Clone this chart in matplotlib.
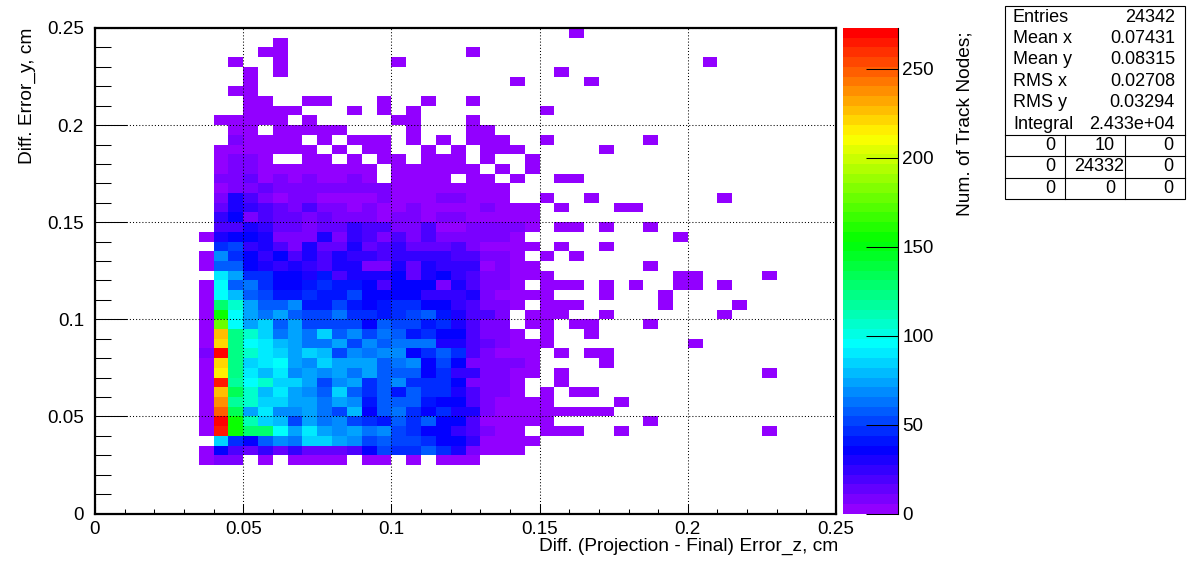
import colorsys

import numpy as np
import matplotlib
matplotlib.use("Agg")
import matplotlib.pyplot as plt
from matplotlib.colors import BoundaryNorm, ListedColormap
from matplotlib.ticker import MultipleLocator

# bin contents, one list per y bin starting at y bin 5, each list starts at x bin 7
first_y_bin = 5
first_x_bin = 7
rows = [
    [3, 10, 6, 0, 3, 0, 3, 3, 3, 3, 0, 3, 3, 0, 3, 0, 3, 3, 3],
    [3, 36, 18, 16, 25, 16, 25, 15, 15, 15, 20, 36, 50, 45, 45, 55, 45, 30, 10, 4, 4, 4],
    [0, 83, 45, 36, 55, 68, 64, 83, 83, 72, 68, 50, 55, 52, 50, 48, 36, 36, 26, 4, 4, 4, 4],
    [3, 262, 155, 130, 130, 97, 72, 92, 72, 66, 76, 64, 70, 50, 44, 36, 34, 26, 17, 10, 4, 4, 0, 3, 3, 3, 0, 0, 3, 0, 0, 0, 0, 0, 0, 0, 0, 0, 3],
    [3, 270, 155, 110, 85, 78, 50, 75, 62, 68, 50, 45, 42, 60, 46, 60, 36, 36, 20, 4, 3, 3, 3, 3, 0, 0, 0, 0, 0, 0, 3],
    [3, 250, 135, 72, 92, 70, 70, 75, 62, 52, 80, 36, 55, 64, 44, 36, 46, 30, 30, 10, 4, 4, 4, 3, 3, 3, 3, 3],
    [3, 240, 115, 105, 85, 85, 75, 72, 62, 75, 66, 42, 55, 55, 55, 43, 36, 34, 20, 10, 4, 4, 4, 3, 0, 0, 0, 0, 3],
    [3, 226, 135, 108, 78, 92, 75, 70, 55, 82, 56, 45, 55, 42, 58, 48, 48, 28, 17, 10, 10, 4, 0, 3, 0, 3, 3],
    [3, 262, 118, 97, 105, 85, 85, 75, 52, 70, 75, 48, 55, 70, 44, 48, 48, 36, 8, 8, 8, 4, 0, 0, 3],
    [3, 214, 122, 92, 78, 90, 70, 75, 70, 75, 62, 76, 56, 58, 56, 36, 48, 25, 25, 10, 10, 4, 4, 0, 3, 0, 0, 0, 0, 0, 0, 0, 0, 0, 0, 0, 0, 0, 3],
    [3, 222, 124, 85, 92, 97, 75, 66, 85, 75, 75, 75, 58, 62, 66, 36, 52, 36, 8, 10, 8, 10, 3, 0, 0, 0, 0, 3],
    [10, 272, 124, 108, 92, 85, 75, 85, 80, 52, 70, 62, 70, 66, 36, 45, 60, 46, 18, 8, 3, 3, 3, 0, 3, 0, 3, 3],
    [3, 222, 124, 97, 92, 78, 72, 62, 62, 75, 50, 70, 55, 62, 62, 64, 32, 30, 18, 16, 10, 3, 3, 3, 0, 0, 0, 0, 0, 0, 0, 0, 0, 3],
    [3, 224, 124, 108, 85, 62, 75, 62, 85, 58, 66, 50, 64, 55, 42, 44, 36, 36, 20, 8, 8, 4, 0, 3, 0, 0, 3],
    [3, 175, 97, 75, 82, 58, 75, 52, 52, 52, 52, 36, 56, 50, 54, 42, 48, 30, 17, 8, 8, 0, 3, 3, 0, 3, 3, 0, 0, 0, 3],
    [3, 155, 97, 72, 64, 72, 58, 52, 52, 62, 45, 48, 42, 45, 50, 55, 42, 30, 18, 17, 10, 0, 3, 3, 3, 0, 0, 3, 0, 0, 0, 0, 0, 0, 0, 3],
    [3, 130, 105, 75, 58, 58, 66, 42, 42, 50, 42, 36, 42, 46, 46, 36, 36, 25, 18, 10, 10, 4, 0, 3, 3, 3, 0, 0, 0, 0, 0, 3, 0, 0, 0, 0, 3],
    [3, 97, 78, 58, 52, 42, 42, 48, 42, 42, 50, 36, 36, 36, 36, 26, 26, 25, 28, 10, 3, 3, 3, 3, 0, 0, 0, 3, 0, 0, 0, 3],
    [3, 97, 56, 62, 44, 36, 36, 42, 48, 42, 42, 36, 20, 36, 35, 36, 10, 28, 18, 10, 8, 4, 0, 3, 3, 3, 0, 3, 0, 3, 0, 0, 3, 3, 0, 3],
    [0, 88, 75, 44, 44, 36, 36, 28, 42, 20, 28, 32, 32, 36, 16, 28, 34, 24, 21, 10, 10, 3, 3, 3, 0, 0, 0, 0, 0, 0, 0, 0, 3, 3, 0, 0, 0, 0, 3],
    [3, 55, 55, 36, 32, 25, 32, 26, 20, 32, 32, 10, 10, 28, 16, 28, 26, 24, 24, 4, 10, 3, 3, 0, 0, 0, 0, 0, 0, 0, 3],
    [3, 70, 45, 36, 26, 35, 20, 30, 17, 30, 24, 24, 20, 27, 27, 27, 26, 20, 20, 10, 10, 4, 0, 3, 0, 3],
    [0, 44, 50, 27, 28, 20, 8, 28, 16, 16, 28, 16, 17, 24, 16, 16, 16, 20, 10, 4, 4, 4, 3, 0, 3, 0, 0, 3],
    [3, 30, 36, 36, 28, 10, 10, 10, 28, 6, 24, 17, 10, 20, 8, 20, 10, 10, 10, 10, 8, 3, 0, 0, 0, 0, 0, 0, 0, 0, 0, 0, 3],
    [0, 20, 20, 28, 24, 16, 16, 8, 16, 16, 24, 20, 17, 10, 10, 20, 4, 4, 10, 6, 6, 6, 4, 0, 3, 3, 0, 3, 0, 0, 3],
    [0, 26, 36, 10, 17, 16, 16, 7, 16, 10, 10, 10, 4, 10, 8, 5, 10, 10, 5, 4, 4, 4, 4],
    [0, 16, 28, 25, 18, 16, 10, 20, 10, 10, 5, 10, 5, 4, 10, 4, 4, 4, 4, 10, 4, 3, 3, 0, 3, 0, 0, 0, 3, 3],
    [0, 10, 28, 20, 10, 5, 10, 10, 4, 4, 4, 4, 10, 4, 4, 4, 9, 9, 3, 3, 3, 0, 0, 3, 0, 0, 3, 0, 0, 0, 0, 0, 0, 0, 0, 3],
    [0, 5, 10, 10, 16, 10, 10, 6, 10, 6, 10, 10, 6, 3, 3, 3, 3, 3, 3, 3, 3],
    [0, 10, 10, 16, 4, 10, 4, 10, 4, 4, 10, 4, 0, 3, 3, 3, 3, 0, 3, 3, 0, 3, 0, 0, 3, 3],
    [0, 3, 10, 10, 3, 3, 3, 3, 3, 3, 3, 3, 0, 3, 3, 3, 3, 3, 3, 0, 3, 0, 3],
    [0, 3, 10, 10, 3, 0, 0, 3, 3, 0, 3, 0, 3, 3, 0, 3, 3, 3, 0, 3, 0, 0, 3],
    [0, 3, 3, 3, 3, 3, 3, 3, 0, 3, 0, 3, 3, 0, 0, 3, 0, 3, 0, 3, 3, 3, 0, 0, 0, 0, 0, 3],
    [0, 0, 10, 3, 3, 3, 3, 0, 3, 0, 3, 3, 3, 0, 3, 0, 3, 0, 3, 3, 3, 0, 0, 3, 0, 0, 0, 0, 0, 0, 3],
    [0, 0, 3, 3, 0, 3, 3, 3, 3, 3, 0, 0, 0, 0, 3, 0, 0, 0, 3, 3],
    [0, 3, 3, 3, 3, 3, 0, 3, 0, 0, 0, 0, 0, 3, 3, 0, 0, 0, 3],
    [0, 0, 0, 3, 3, 3, 3, 0, 0, 0, 3, 0, 3, 0, 3, 0, 0, 0, 0, 0, 0, 0, 0, 3],
    [0, 0, 0, 3, 3, 0, 0, 3, 3, 0, 0, 0, 3, 0, 0, 3, 0, 0, 3],
    [0, 0, 3, 3],
]
# isolated single-count bins near the top
lone_x_bins = [10, 28, 33, 10, 12, 31, 9, 12, 20, 41, 11, 12, 25, 12, 32]
lone_y_bins = [44, 44, 44, 45, 45, 45, 46, 46, 46, 46, 47, 47, 47, 48, 49]
lone_value = 3

z_max = 272.8
n_levels = 50
z_ticks = [0, 50, 100, 150, 200, 250]
xy_ticks = [0, 0.05, 0.1, 0.15, 0.2, 0.25]
xy_tick_labels = ["0", "0.05", "0.1", "0.15", "0.2", "0.25"]

stats_names = ["Entries", "Mean x", "Mean y", "RMS x", "RMS y", "Integral"]
stats_values = ["24342", "0.07431", "0.08315", "0.02708", "0.03294", "2.433e+04"]
overflow = [["0", "10", "0"], ["0", "24332", "0"], ["0", "0", "0"]]

W, H = 1196, 572
FONT = "Liberation Sans"


def px_box(left, top, right, bottom):
    return [left / W, 1 - bottom / H, (right - left) / W, (bottom - top) / H]


def root_palette():
    # same hue walk as ROOT's default 50 colour palette
    hues = [(280 - (i + 1) * 5.6) / 360 for i in range(n_levels)]
    return ListedColormap([colorsys.hsv_to_rgb(h, 1, 1) for h in hues])


def build_grid():
    grid = np.zeros((50, 50))
    for j, row in enumerate(rows):
        grid[first_y_bin + j, first_x_bin:first_x_bin + len(row)] = row
    for i, j in zip(lone_x_bins, lone_y_bins):
        grid[j, i] = lone_value
    return np.ma.masked_equal(grid, 0)


def draw_stats(fig):
    left, right, top, bottom = 1004.5, 1184.5, 5.5, 198.5
    fig.add_artist(plt.Rectangle((left / W, 1 - bottom / H), (right - left) / W, (bottom - top) / H,
                                 transform=fig.transFigure, fc="white", ec="black", lw=0.8))
    for name, val, y in zip(stats_names, stats_values, [17.5, 38.5, 60, 81.5, 102.5, 124.5]):
        fig.text(1013 / W, 1 - y / H, name, fontsize=13, family=FONT, ha="left", va="center")
        fig.text(1175 / W, 1 - y / H, val, fontsize=13, family=FONT, ha="right", va="center")

    for y in [134.5, 155.5, 177.5]:
        fig.add_artist(plt.Line2D([left / W, right / W], [1 - y / H] * 2, color="black", lw=0.8))
    for x in [1064.5, 1124.5]:
        fig.add_artist(plt.Line2D([x / W] * 2, [1 - bottom / H, 1 - 134.5 / H], color="black", lw=0.8))

    for row, y in zip(overflow, [145.5, 166.5, 188.5]):
        for val, x in zip(row, [1055, 1115, 1173]):
            if val == "24332":
                x = 1124
            fig.text(x / W, 1 - y / H, val, fontsize=13, family=FONT, ha="right", va="center")


def main():
    fig = plt.figure(figsize=(W / 100, H / 100), dpi=100)
    ax = fig.add_axes(px_box(95, 28, 836, 513.5))
    cax = fig.add_axes(px_box(843, 28, 898, 513.5))

    edges = np.linspace(0, 0.25, 51)
    levels = np.linspace(0, z_max, n_levels + 1)
    norm = BoundaryNorm(levels, n_levels)
    mesh = ax.pcolormesh(edges, edges, build_grid(), cmap=root_palette(), norm=norm,
                         linewidth=0, rasterized=True)

    ax.set_xlim(0, 0.25)
    ax.set_ylim(0, 0.25)
    ax.set_xticks(xy_ticks, xy_tick_labels)
    ax.set_yticks(xy_ticks, xy_tick_labels)
    ax.xaxis.set_minor_locator(MultipleLocator(0.01))
    ax.yaxis.set_minor_locator(MultipleLocator(0.01))
    ax.tick_params(axis="x", which="major", direction="in", length=7, width=0.75, pad=5.5,
                   labelsize=13.6, labelfontfamily=FONT)
    ax.tick_params(axis="x", which="minor", direction="in", length=3.5, width=0.75)
    ax.tick_params(axis="y", which="major", direction="in", length=23, width=0.75, pad=8,
                   labelsize=13.6, labelfontfamily=FONT)
    ax.tick_params(axis="y", which="minor", direction="in", length=11.5, width=0.75)
    ax.grid(True, which="major", color="black", linestyle=(0, (1, 2)), linewidth=0.75)
    ax.set_axisbelow(False)
    for spine in ax.spines.values():
        spine.set_linewidth(1.6)

    cb = fig.colorbar(mesh, cax=cax, spacing="proportional", ticks=z_ticks, drawedges=False)
    cb.outline.set_visible(False)
    cb.minorticks_off()
    cax.tick_params(axis="y", direction="in", length=23, width=0.75, pad=3, labelsize=13.6,
                    labelfontfamily=FONT)
    cax.plot([1, 1], [0, 1], transform=cax.transAxes, color="black", lw=0.8, clip_on=False)

    fig.text(838 / W, 1 - 546.5 / H, "Diff. (Projection - Final) Error_z, cm", fontsize=13.75,
             family=FONT, ha="right", va="center")
    fig.text(27.5 / W, 1 - 28 / H, "Diff. Error_y, cm", fontsize=13.75, family=FONT,
             rotation=90, ha="center", va="top")
    fig.text(964.5 / W, 1 - 31 / H, "Num. of Track Nodes;", fontsize=13.75, family=FONT,
             rotation=90, ha="center", va="top")

    draw_stats(fig)
    fig.savefig("out.png", dpi=100)
    plt.close(fig)


if __name__ == "__main__":
    main()
